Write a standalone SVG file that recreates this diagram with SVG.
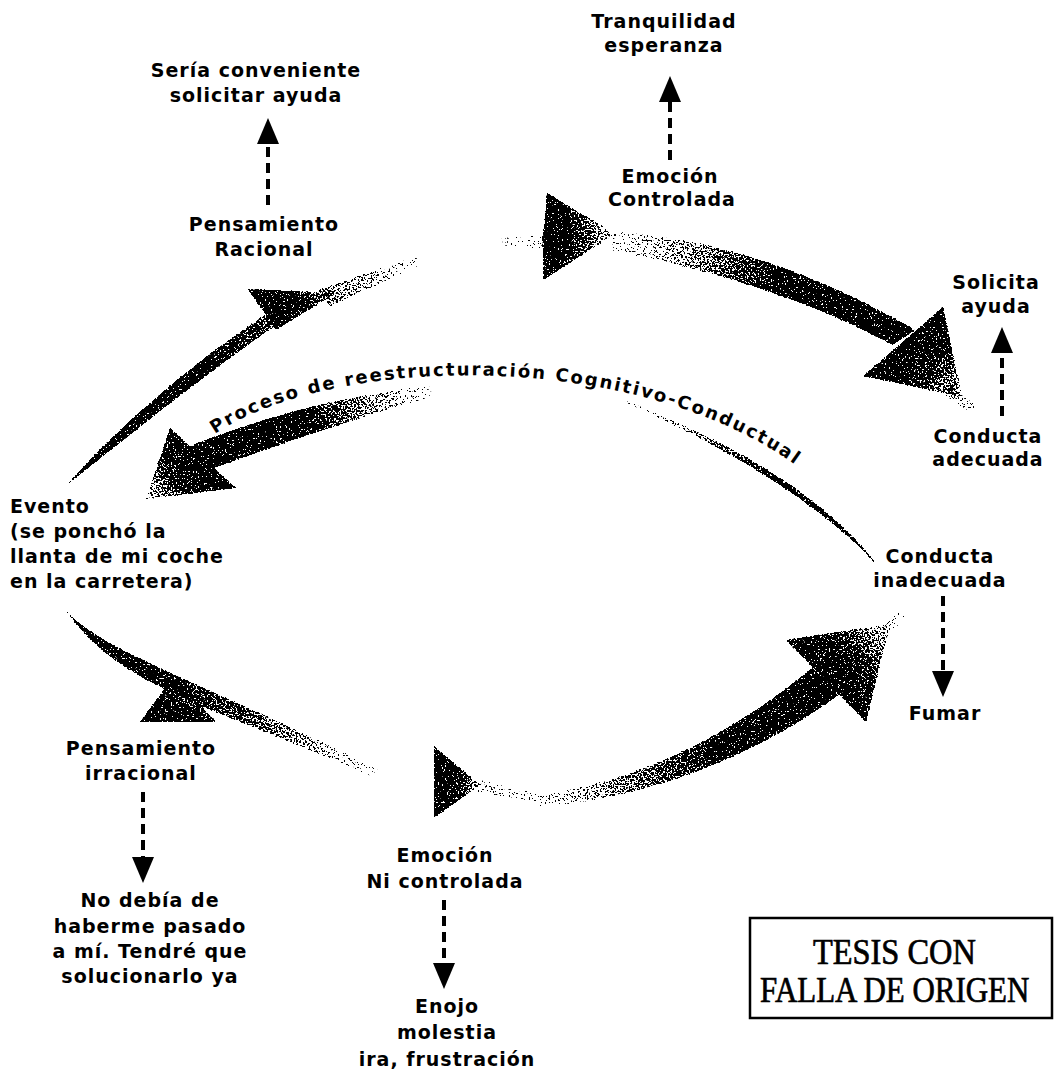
<svg xmlns="http://www.w3.org/2000/svg" width="1056" height="1074" viewBox="0 0 1056 1074">
  <style>
    .lbl { font-family: "DejaVu Sans", "Liberation Sans", sans-serif; font-weight: bold; font-size: 19px; letter-spacing: 1px; fill: #000; text-anchor: middle; }
    .left { text-anchor: start; }
    .arc { font-family: "DejaVu Sans", "Liberation Sans", sans-serif; font-weight: bold; font-size: 18px; fill: #000; letter-spacing: 2px; }
    .stamp { font-family: "Liberation Serif", "Times New Roman", serif; font-size: 36px; fill: #000; stroke: #000; stroke-width: 0.7px; }
    .dash { stroke: #000; stroke-width: 4; stroke-dasharray: 10 6; fill: none; marker-end: url(#ah); }
  </style>
  <defs>
    <marker id="ah" markerUnits="userSpaceOnUse" markerWidth="26" markerHeight="22" viewBox="0 0 26 22" refX="1" refY="11" orient="auto">
      <path d="M0 0 L26 11 L0 22 Z" fill="#000"/>
    </marker>
    <!-- dithered fade: gradient alpha compared against noise -->
    <filter id="grain" filterUnits="userSpaceOnUse" x="0" y="0" width="1056" height="1074" color-interpolation-filters="sRGB">
      <feTurbulence type="fractalNoise" baseFrequency="0.55" numOctaves="2" seed="7" result="noise"/>
      <feColorMatrix in="noise" type="matrix" values="0 0 0 0 0  0 0 0 0 0  0 0 0 0 0  2.6 0 0 0 -0.8" result="na"/>
      <feComposite in="SourceAlpha" in2="na" operator="arithmetic" k1="0" k2="1" k3="-1" k4="0" result="diff"/>
      <feComponentTransfer in="diff" result="bin">
        <feFuncA type="linear" slope="30" intercept="0"/>
      </feComponentTransfer>
      <feFlood flood-color="#000"/>
      <feComposite in2="bin" operator="in"/>
    </filter>

    <!-- arrow A: Evento to Pensamiento Racional -->
    <linearGradient id="gAs" gradientUnits="userSpaceOnUse" x1="67" y1="485" x2="272" y2="320">
      <stop offset="0" stop-opacity="1"/><stop offset="0.72" stop-opacity="1"/><stop offset="1" stop-opacity="0.7"/>
    </linearGradient>
    <linearGradient id="gAh" gradientUnits="userSpaceOnUse" x1="252" y1="302" x2="422" y2="258">
      <stop offset="0" stop-opacity="1"/><stop offset="0.25" stop-opacity="0.97"/><stop offset="0.45" stop-opacity="0.5"/><stop offset="1" stop-opacity="0"/>
    </linearGradient>
    <!-- arrow B: top -->
    <linearGradient id="gBt" gradientUnits="userSpaceOnUse" x1="500" y1="240" x2="615" y2="238">
      <stop offset="0" stop-opacity="0"/><stop offset="0.36" stop-opacity="0.15"/><stop offset="0.38" stop-opacity="1"/><stop offset="0.6" stop-opacity="0.95"/><stop offset="1" stop-opacity="0.2"/>
    </linearGradient>
    <linearGradient id="gBs" gradientUnits="userSpaceOnUse" x1="612" y1="241" x2="905" y2="338">
      <stop offset="0" stop-opacity="0.05"/><stop offset="0.3" stop-opacity="0.5"/><stop offset="0.55" stop-opacity="0.96"/><stop offset="1" stop-opacity="1"/>
    </linearGradient>
    <linearGradient id="gBh" gradientUnits="userSpaceOnUse" x1="903" y1="341" x2="978" y2="412">
      <stop offset="0" stop-opacity="1"/><stop offset="0.35" stop-opacity="0.9"/><stop offset="0.75" stop-opacity="0.35"/><stop offset="1" stop-opacity="0"/>
    </linearGradient>
    <!-- arrow C: Proceso de reestructuracion -->
    <linearGradient id="gCs" gradientUnits="userSpaceOnUse" x1="432" y1="391" x2="202" y2="457">
      <stop offset="0" stop-opacity="0"/><stop offset="0.3" stop-opacity="0.5"/><stop offset="0.55" stop-opacity="0.96"/><stop offset="1" stop-opacity="1"/>
    </linearGradient>
    <linearGradient id="gCh" gradientUnits="userSpaceOnUse" x1="203" y1="458" x2="140" y2="500">
      <stop offset="0" stop-opacity="1"/><stop offset="0.4" stop-opacity="0.9"/><stop offset="1" stop-opacity="0.2"/>
    </linearGradient>
    <!-- arrow D: Conducta inadecuada upward sweep -->
    <linearGradient id="gD" gradientUnits="userSpaceOnUse" x1="878" y1="566" x2="612" y2="396">
      <stop offset="0" stop-opacity="1"/><stop offset="0.45" stop-opacity="0.95"/><stop offset="0.72" stop-opacity="0.45"/><stop offset="1" stop-opacity="0"/>
    </linearGradient>
    <!-- arrow E: Evento to Pensamiento irracional -->
    <linearGradient id="gEs" gradientUnits="userSpaceOnUse" x1="67" y1="612" x2="378" y2="773">
      <stop offset="0" stop-opacity="1"/><stop offset="0.3" stop-opacity="0.95"/><stop offset="0.5" stop-opacity="0.8"/><stop offset="0.78" stop-opacity="0.4"/><stop offset="1" stop-opacity="0"/>
    </linearGradient>
    <linearGradient id="gEh" gradientUnits="userSpaceOnUse" x1="152" y1="720" x2="182" y2="672">
      <stop offset="0" stop-opacity="1"/><stop offset="0.5" stop-opacity="0.9"/><stop offset="1" stop-opacity="0.4"/>
    </linearGradient>
    <!-- arrow F: bottom rising arrow -->
    <linearGradient id="gFt" gradientUnits="userSpaceOnUse" x1="434" y1="783" x2="550" y2="800">
      <stop offset="0" stop-opacity="1"/><stop offset="0.2" stop-opacity="0.95"/><stop offset="0.4" stop-opacity="0.2"/><stop offset="1" stop-opacity="0.05"/>
    </linearGradient>
    <linearGradient id="gFs" gradientUnits="userSpaceOnUse" x1="540" y1="800" x2="826" y2="681">
      <stop offset="0" stop-opacity="0.1"/><stop offset="0.3" stop-opacity="0.55"/><stop offset="0.6" stop-opacity="0.96"/><stop offset="1" stop-opacity="1"/>
    </linearGradient>
    <linearGradient id="gFh" gradientUnits="userSpaceOnUse" x1="826" y1="681" x2="907" y2="610">
      <stop offset="0" stop-opacity="1"/><stop offset="0.35" stop-opacity="0.85"/><stop offset="0.75" stop-opacity="0.3"/><stop offset="1" stop-opacity="0"/>
    </linearGradient>

    <path id="arcPath" d="M 215 434 C 330 355, 640 345, 805 472" fill="none"/>
  </defs>

  <rect width="1056" height="1074" fill="#fff"/>

  <!-- connectors: cycle of swoosh arrows and dashed outcome arrows -->
  <g id="connectors">
    <g id="swooshes" filter="url(#grain)">
      <g id="arrow-a">
        <path d="M 67 485 C 120 425, 190 365, 265 315 L 275 326 C 200 378, 130 435, 67 485 Z" fill="url(#gAs)"/>
        <path d="M 248 289 L 336 293 L 276 330 Z" fill="url(#gAh)"/>
        <path d="M 318 290 L 418 256 L 422 264 L 330 306 Z" fill="url(#gAh)"/>
      </g>
      <g id="arrow-b">
        <path d="M 500 238 L 543 236 L 547 193 L 615 234 L 543 280 L 543 248 L 500 246 Z" fill="url(#gBt)"/>
        <path d="M 612 232 C 690 236, 790 258, 915 330 L 893 345 C 800 295, 700 268, 612 250 Z" fill="url(#gBs)"/>
        <path d="M 943 307 L 863 376 L 962 397 Z" fill="url(#gBh)"/>
        <path d="M 950 385 L 975 405 L 971 412 L 946 396 Z" fill="url(#gBh)"/>
      </g>
      <g id="arrow-c">
        <path d="M 432 386 C 350 394, 268 415, 190 446 L 214 468 C 290 440, 360 418, 432 396 Z" fill="url(#gCs)"/>
        <path d="M 170 428 L 236 488 L 146 499 Z" fill="url(#gCh)"/>
      </g>
      <g id="arrow-d">
        <path d="M 878 566 C 840 515, 760 450, 612 396 C 765 463, 843 527, 878 566 Z" fill="url(#gD)"/>
      </g>
      <g id="arrow-e">
        <path d="M 67 612 C 110 655, 200 680, 378 770 L 374 777 C 215 707, 120 688, 67 612 Z" fill="url(#gEs)"/>
        <path d="M 140 722 L 174 676 L 216 722 Z" fill="url(#gEh)"/>
      </g>
      <g id="arrow-f">
        <path d="M 434 746 L 480 785 L 434 818 Z" fill="url(#gFt)"/>
        <path d="M 478 780 L 548 795 L 548 804 L 478 792 Z" fill="url(#gFt)"/>
        <path d="M 540 795 C 620 785, 720 745, 812 668 L 840 694 C 750 760, 640 800, 540 806 Z" fill="url(#gFs)"/>
        <path d="M 786 640 L 866 722 L 890 624 Z" fill="url(#gFh)"/>
        <path d="M 882 628 L 902 610 L 907 616 L 888 634 Z" fill="url(#gFh)"/>
      </g>
    </g>
    <g id="outcome-arrows">
      <line class="dash" x1="670" y1="160" x2="670" y2="101"/>
      <line class="dash" x1="268" y1="205" x2="268" y2="143"/>
      <line class="dash" x1="1002" y1="416" x2="1002" y2="352"/>
      <line class="dash" x1="943" y1="596" x2="943" y2="672"/>
      <line class="dash" x1="143" y1="792" x2="143" y2="858"/>
      <line class="dash" x1="444" y1="900" x2="444" y2="964"/>
    </g>
  </g>

  <!-- process title along the inner arc -->
  <text class="arc"><textPath href="#arcPath">Proceso de reestructuración Cognitivo-Conductual</textPath></text>

  <g id="tranquilidad">
    <text class="lbl" x="664" y="28">Tranquilidad</text>
    <text class="lbl" x="664" y="52">esperanza</text>
  </g>
  <g id="emocion-controlada">
    <text class="lbl" x="670" y="183">Emoción</text>
    <text class="lbl" x="672" y="206">Controlada</text>
  </g>
  <g id="seria-conveniente">
    <text class="lbl" x="256" y="77">Sería conveniente</text>
    <text class="lbl" x="256" y="102">solicitar ayuda</text>
  </g>
  <g id="pensamiento-racional">
    <text class="lbl" x="264" y="231">Pensamiento</text>
    <text class="lbl" x="264" y="256">Racional</text>
  </g>
  <g id="solicita-ayuda">
    <text class="lbl" x="996" y="289">Solicita</text>
    <text class="lbl" x="996" y="313">ayuda</text>
  </g>
  <g id="conducta-adecuada">
    <text class="lbl" x="988" y="443">Conducta</text>
    <text class="lbl" x="988" y="466">adecuada</text>
  </g>
  <g id="evento">
    <text class="lbl left" x="10" y="513">Evento</text>
    <text class="lbl left" x="10" y="538">(se ponchó la</text>
    <text class="lbl left" x="10" y="563">llanta de mi coche</text>
    <text class="lbl left" x="10" y="588">en la carretera)</text>
  </g>
  <g id="conducta-inadecuada">
    <text class="lbl" x="940" y="563">Conducta</text>
    <text class="lbl" x="940" y="587">inadecuada</text>
  </g>
  <g id="fumar">
    <text class="lbl" x="945" y="720">Fumar</text>
  </g>
  <g id="pensamiento-irracional">
    <text class="lbl" x="141" y="755">Pensamiento</text>
    <text class="lbl" x="141" y="780">irracional</text>
  </g>
  <g id="no-debia">
    <text class="lbl" x="150" y="907">No debía de</text>
    <text class="lbl" x="150" y="933">haberme pasado</text>
    <text class="lbl" x="150" y="958">a mí. Tendré que</text>
    <text class="lbl" x="150" y="983">solucionarlo ya</text>
  </g>
  <g id="emocion-ni-controlada">
    <text class="lbl" x="445" y="862">Emoción</text>
    <text class="lbl" x="445" y="888">Ni controlada</text>
  </g>
  <g id="enojo">
    <text class="lbl" x="447" y="1013">Enojo</text>
    <text class="lbl" x="447" y="1039">molestia</text>
    <text class="lbl" x="447" y="1066">ira, frustración</text>
  </g>

  <!-- archive stamp: condensed serif lettering inside a ruled box -->
  <g id="stamp">
    <rect x="750" y="918" width="302" height="100" fill="none" stroke="#000" stroke-width="2.5"/>
    <text class="stamp" transform="translate(813 964) scale(0.9 1)">TESIS CON</text>
    <text class="stamp" transform="translate(760 1002) scale(0.86 1)">FALLA DE ORIGEN</text>
  </g>
</svg>
